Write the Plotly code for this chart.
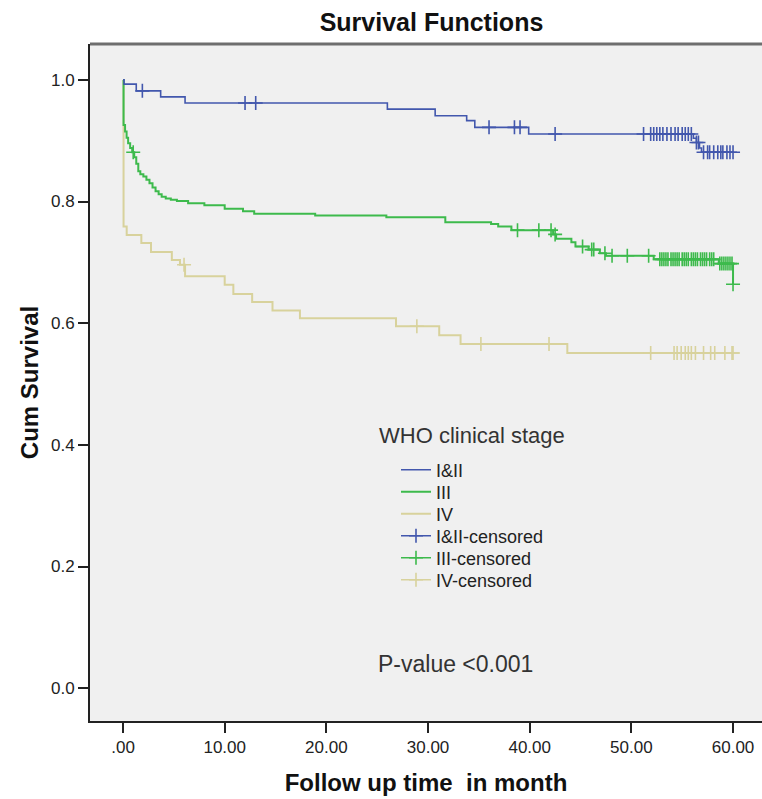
import numpy as np
import plotly.graph_objects as go

# ---- Kaplan-Meier data ----
follow_up_end = 60.0

# WHO stage I&II
t_12 = [0.0, 0.1, 1.3, 3.7, 6.1, 26.0, 30.7, 33.8, 34.6, 39.9, 56.1, 56.4, 56.7, 56.9]
s_12 = [1.000, 0.993, 0.982, 0.972, 0.962, 0.952, 0.941, 0.933, 0.922, 0.911, 0.904, 0.897, 0.888, 0.881]
c_12 = [1.9, 12.0, 13.05, 36.0, 38.5, 39.05, 42.5, 51.2, 51.9, 52.2, 52.5, 52.8, 53.1, 53.5,
        53.9, 54.3, 54.6, 55.0, 55.3, 55.6, 55.9, 56.4, 56.6, 57.1, 57.5, 57.7, 58.1, 58.5,
        58.8, 59.0, 59.4, 59.7, 60.0]

# WHO stage III
t_3 = [0.0, 0.05, 0.2, 0.35, 0.5, 0.7, 0.9, 1.1, 1.3, 1.5, 1.7, 2.0, 2.3, 2.6, 2.9, 3.2, 3.5,
       3.8, 4.2, 4.7, 5.3, 6.4, 8.0, 10.0, 11.8, 12.9, 18.9, 25.9, 31.7, 36.2, 36.9, 38.2,
       42.3, 42.6, 44.1, 44.5, 45.8, 46.9, 47.5, 52.2, 58.6, 60.0]
s_3 = [1.0, 0.926, 0.915, 0.905, 0.896, 0.888, 0.881, 0.873, 0.862, 0.850, 0.845, 0.841,
       0.836, 0.830, 0.823, 0.817, 0.812, 0.808, 0.805, 0.803, 0.801, 0.797, 0.794, 0.788,
       0.784, 0.780, 0.777, 0.774, 0.766, 0.763, 0.759, 0.753, 0.746, 0.739, 0.733, 0.726,
       0.721, 0.715, 0.711, 0.705, 0.698, 0.664]
c_3 = [1.0, 38.8, 40.9, 42.1, 42.5, 45.2, 46.1, 46.3, 47.4, 48.1, 49.6, 51.7, 52.8, 53.0,
       53.2, 53.4, 53.6, 53.9, 54.1, 54.3, 54.5, 54.7, 55.0, 55.2, 55.4, 55.6, 55.9, 56.1,
       56.3, 56.5, 56.8, 57.0, 57.2, 57.4, 57.7, 57.9, 58.1, 58.7, 58.9, 59.1, 59.3, 59.5,
       59.7, 59.9, 60.0]

# WHO stage IV
t_4 = [0.0, 0.05, 0.36, 1.8, 2.75, 4.8, 5.6, 6.1, 10.0, 10.85, 12.7, 14.7, 17.4, 26.85,
       31.1, 33.2, 43.7]
s_4 = [1.0, 0.759, 0.745, 0.732, 0.717, 0.704, 0.696, 0.677, 0.663, 0.648, 0.635, 0.621,
       0.608, 0.595, 0.580, 0.566, 0.551]
c_4 = [6.0, 28.9, 35.2, 41.9, 51.9, 54.2, 54.5, 54.9, 55.3, 55.6, 55.9, 56.3, 57.1, 57.8,
       58.2, 59.2, 59.9, 60.0]

x_tickvals = [0, 10, 20, 30, 40, 50, 60]
x_ticktext = [".00", "10.00", "20.00", "30.00", "40.00", "50.00", "60.00"]
y_tickvals = [0.0, 0.2, 0.4, 0.6, 0.8, 1.0]
y_ticktext = ["0.0", "0.2", "0.4", "0.6", "0.8", "1.0"]

groups = [
    ("I&II", t_12, s_12, c_12, "#4257ad", 1.6),
    ("III", t_3, s_3, c_3, "#3dba4c", 2.0),
    ("IV", t_4, s_4, c_4, "#d8d29c", 2.0),
]

FONT = "Liberation Sans, Arial, sans-serif"
W, H = 762, 799
ML, MR, MT, MB = 90, 0, 44, 78
PW, PH = W - ML - MR, H - MT - MB

fig = go.Figure()


def surv_at(times, surv, c):
    idx = np.searchsorted(np.array(times), np.array(c), side="right") - 1
    return [surv[i] for i in idx]


def legend_id(k):
    return "legend" if k == 0 else "legend%d" % (k + 1)


# draw order: IV, III, I&II (I&II on top); each entry gets its own legend slot
draw_order = [2, 1, 0]
for gi in draw_order:
    name, t, s, c, col, lw = groups[gi]
    xs = list(t) + [follow_up_end]
    ys = list(s) + [s[-1]]
    fig.add_trace(go.Scatter(
        x=xs, y=ys, mode="lines", line=dict(color=col, width=lw, shape="hv"),
        name=name, legend=legend_id(gi), hoverinfo="skip",
    ))

for gi in draw_order:
    name, t, s, c, col, lw = groups[gi]
    cy = surv_at(t, s, c)
    xs, ys = [], []
    for a, b in zip(c, cy):
        xs += [a, None]
        ys += [b, None]
    fig.add_trace(go.Scatter(
        x=xs, y=ys, mode="lines+markers", connectgaps=False,
        line=dict(color=col, width=1.5),
        marker=dict(symbol="cross-thin", size=10, color=col,
                    line=dict(color=col, width=1.6)),
        name=name + "-censored", legend=legend_id(gi + 3), hoverinfo="skip",
    ))

# legend slots (pixel row centres from the picture)
legend_left_px = 396
legend_rows_px = [470, 492, 514, 536, 558, 580]
legends = {}
for k, yc in enumerate(legend_rows_px):
    legends[legend_id(k)] = dict(
        x=(legend_left_px - ML) / PW, y=(H - MB - yc) / PH,
        xanchor="left", yanchor="middle", bgcolor="rgba(0,0,0,0)",
        font=dict(family=FONT, size=18, color="#222"),
    )

fig.update_layout(
    width=W, height=H,
    margin=dict(l=ML, r=MR, t=MT, b=MB),
    paper_bgcolor="white",
    plot_bgcolor="#f0f0f0",
    font=dict(family=FONT, size=17, color="#222"),
    title=dict(text="Survival Functions", x=431.5 / W, xanchor="center",
               y=1 - 22 / H, yanchor="middle", yref="container",
               font=dict(family=FONT, size=25, color="#111", weight="bold")),
    showlegend=True,
    xaxis=dict(range=[-3.25, 62.85], tickvals=x_tickvals, ticktext=x_ticktext,
               ticks="outside", ticklen=10, tickwidth=2, tickcolor="#222",
               showline=True, linecolor="#222", linewidth=2,
               showgrid=False, zeroline=False,
               tickfont=dict(family=FONT, size=17, color="#222"),
               title=dict(text="Follow up time\u00a0 in month", standoff=18,
                          font=dict(family=FONT, size=24, color="#111", weight="bold"))),
    yaxis=dict(range=[-0.054, 1.059], tickvals=y_tickvals, ticktext=y_ticktext,
               ticks="outside", ticklen=10, tickwidth=2, tickcolor="#222",
               showline=True, linecolor="#222", linewidth=2,
               showgrid=False, zeroline=False,
               tickfont=dict(family=FONT, size=17, color="#222"),
               title=dict(text="Cum Survival", standoff=6,
                          font=dict(family=FONT, size=24, color="#111", weight="bold"))),
    shapes=[dict(type="line", xref="paper", yref="paper", x0=0, x1=1, y0=1, y1=1,
                 line=dict(color="#6e6e6e", width=3))],
    annotations=[
        dict(text="WHO clinical stage", xref="paper", yref="paper",
             x=(377 - ML) / PW, y=(H - MB - 435) / PH,
             xanchor="left", yanchor="middle", showarrow=False,
             font=dict(family=FONT, size=22, color="#333")),
        dict(text="P-value <0.001", xref="paper", yref="paper",
             x=(455 - ML) / PW, y=(H - MB - 664) / PH,
             xanchor="center", yanchor="middle", showarrow=False,
             font=dict(family=FONT, size=23, color="#333")),
    ],
    **legends,
)

fig.write_html("out.html", config={"displayModeBar": False},
               post_script="document.body.style.margin='0';document.body.style.overflow='hidden';")
